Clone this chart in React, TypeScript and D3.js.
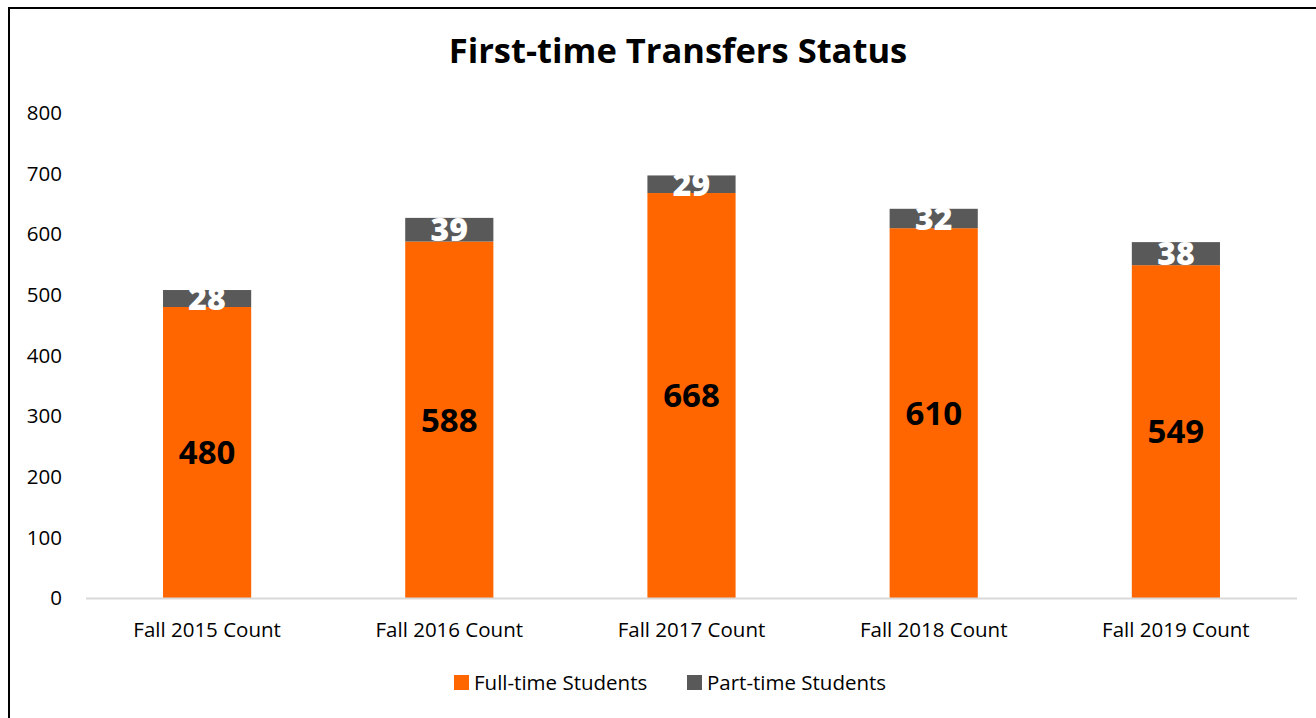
import { useEffect, useRef } from "react";
import * as d3 from "d3";

const WIDTH = 1316;
const HEIGHT = 718;
const MARGIN = { top: 113, right: 19, bottom: 120, left: 86 };
const FONT = "'Open Sans', Lato, sans-serif";

const categories = [
  "Fall 2015 Count",
  "Fall 2016 Count",
  "Fall 2017 Count",
  "Fall 2018 Count",
  "Fall 2019 Count",
];
const fullTime = [480, 588, 668, 610, 549];
const partTime = [28, 39, 29, 32, 38];
const yTicks = [0, 100, 200, 300, 400, 500, 600, 700, 800];
const seriesNames = ["Full-time Students", "Part-time Students"];
const seriesColors = ["#FF6600", "#595959"];

export default function App() {
  const ref = useRef<SVGSVGElement | null>(null);

  useEffect(() => {
    const svg = d3.select(ref.current);
    svg.selectAll("*").remove();

    const boundsWidth = WIDTH - MARGIN.left - MARGIN.right;
    const y0 = 598;
    const x = d3
      .scaleBand()
      .domain(categories)
      .range([MARGIN.left, MARGIN.left + boundsWidth])
      .paddingInner(0.636)
      .paddingOuter(0.318);
    const y = d3.scaleLinear().domain([0, 800]).range([y0, MARGIN.top]);

    // frame
    svg
      .append("rect")
      .attr("x", 9)
      .attr("y", 8)
      .attr("width", 1400)
      .attr("height", 900)
      .attr("fill", "#fff")
      .attr("stroke", "#000")
      .attr("stroke-width", 2);

    svg
      .append("text")
      .attr("x", 678)
      .attr("y", 63)
      .attr("text-anchor", "middle")
      .style("font-family", FONT)
      .style("font-weight", "700")
      .style("font-size", "34.5px")
      .text("First-time Transfers Status");

    // y labels
    svg
      .append("g")
      .selectAll("text")
      .data(yTicks)
      .join("text")
      .attr("x", 62)
      .attr("y", (d) => y(d))
      .attr("dy", "0.35em")
      .attr("text-anchor", "end")
      .style("font-family", FONT)
      .style("font-size", "20.5px")
      .attr("fill", "#000")
      .text((d) => d);

    const stacked = categories.map((c, i) => ({
      cat: c,
      full: fullTime[i],
      part: partTime[i],
    }));

    const bars = svg.append("g");
    bars
      .selectAll("rect.full")
      .data(stacked)
      .join("rect")
      .attr("class", "full")
      .attr("x", (d) => x(d.cat)!)
      .attr("width", x.bandwidth())
      .attr("y", (d) => y(d.full))
      .attr("height", (d) => y(0) - y(d.full))
      .attr("fill", seriesColors[0]);
    bars
      .selectAll("rect.part")
      .data(stacked)
      .join("rect")
      .attr("class", "part")
      .attr("x", (d) => x(d.cat)!)
      .attr("width", x.bandwidth())
      .attr("y", (d) => y(d.full + d.part))
      .attr("height", (d) => y(d.full) - y(d.full + d.part))
      .attr("fill", seriesColors[1]);

    // baseline
    svg
      .append("line")
      .attr("x1", MARGIN.left)
      .attr("x2", MARGIN.left + boundsWidth)
      .attr("y1", y0 + 0.5)
      .attr("y2", y0 + 0.5)
      .attr("stroke", "#d9d9d9")
      .attr("stroke-width", 2);

    // value labels
    svg
      .append("g")
      .selectAll("text")
      .data(stacked)
      .join("text")
      .attr("x", (d) => x(d.cat)! + x.bandwidth() / 2)
      .attr("y", (d) => y(d.full / 2))
      .attr("dy", "0.36em")
      .attr("text-anchor", "middle")
      .style("font-family", FONT)
      .style("font-weight", "700")
      .style("font-size", "33px")
      .attr("fill", "#000")
      .text((d) => d.full);
    svg
      .append("g")
      .selectAll("text")
      .data(stacked)
      .join("text")
      .attr("x", (d) => x(d.cat)! + x.bandwidth() / 2)
      .attr("y", (d) => y(d.full + d.part / 2))
      .attr("dy", "0.36em")
      .attr("text-anchor", "middle")
      .style("font-family", FONT)
      .style("font-weight", "800")
      .style("font-size", "32px")
      .attr("fill", "#fff")
      .text((d) => d.part);

    // x labels
    svg
      .append("g")
      .selectAll("text")
      .data(categories)
      .join("text")
      .attr("x", (d) => x(d)! + x.bandwidth() / 2)
      .attr("y", 630)
      .attr("dy", "0.35em")
      .attr("text-anchor", "middle")
      .style("font-family", FONT)
      .style("font-size", "20.5px")
      .attr("fill", "#000")
      .text((d) => d);

    // legend
    const legendX = [454, 687];
    const legend = svg
      .append("g")
      .selectAll("g")
      .data(seriesNames)
      .join("g")
      .attr("transform", (_, i) => `translate(${legendX[i]},675)`);
    legend
      .append("rect")
      .attr("width", 15)
      .attr("height", 15)
      .attr("fill", (_, i) => seriesColors[i]);
    legend
      .append("text")
      .attr("x", 20)
      .attr("y", 8)
      .attr("dy", "0.35em")
      .style("font-family", FONT)
      .style("font-size", "20.5px")
      .attr("fill", "#000")
      .text((d) => d);
  }, []);

  return (
    <svg
      ref={ref}
      width={WIDTH}
      height={HEIGHT}
      style={{ position: "absolute", left: 0, top: 0 }}
    />
  );
}
